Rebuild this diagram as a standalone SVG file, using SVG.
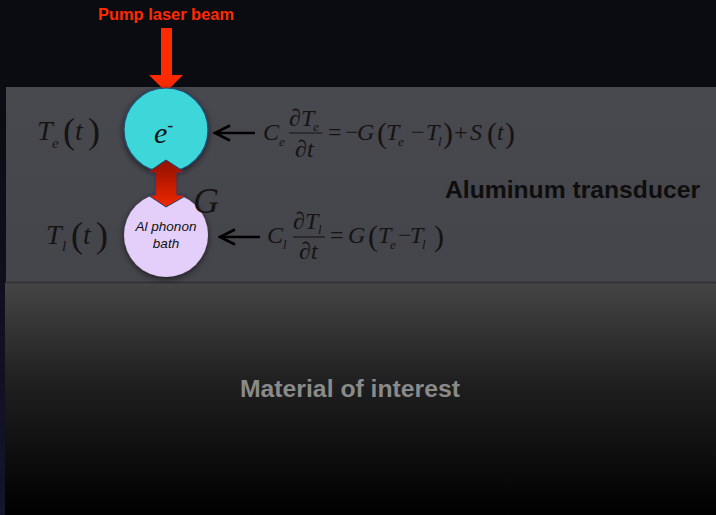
<svg xmlns="http://www.w3.org/2000/svg" width="716" height="515" viewBox="0 0 716 515">
<defs>
<linearGradient id="bgL" x1="0" y1="0" x2="0" y2="1"><stop offset="0" stop-color="#0b0b12"/><stop offset="1" stop-color="#14142a"/></linearGradient>
<linearGradient id="mat" x1="0" y1="0" x2="0" y2="1"><stop offset="0" stop-color="#454545"/><stop offset="0.45" stop-color="#1e1e1e"/><stop offset="1" stop-color="#000"/></linearGradient>
<linearGradient id="al" x1="0" y1="0" x2="0" y2="1"><stop offset="0" stop-color="#48484f"/><stop offset="1" stop-color="#44444b"/></linearGradient>
<linearGradient id="dbl" x1="0" y1="0" x2="0" y2="1"><stop offset="0" stop-color="#8e1200"/><stop offset="0.5" stop-color="#c01a00"/><stop offset="1" stop-color="#f02800"/></linearGradient>
<filter id="sh" x="-30%" y="-30%" width="160%" height="160%"><feGaussianBlur in="SourceAlpha" stdDeviation="3"/><feOffset dy="2"/><feComponentTransfer><feFuncA type="linear" slope="0.6"/></feComponentTransfer><feMerge><feMergeNode/><feMergeNode in="SourceGraphic"/></feMerge></filter>
<marker id="ah" viewBox="0 0 18 18" refX="16" refY="9" markerWidth="18" markerHeight="18" markerUnits="userSpaceOnUse" orient="auto"><path d="M1,1.5 L16,9 L1,16.5" fill="none" stroke="#000" stroke-width="2.6"/></marker>
</defs>
<style>
.m{font-family:"Liberation Serif","Times New Roman",serif;font-style:italic;fill:#141414}
.p{font-family:"Liberation Serif","Times New Roman",serif;fill:#141414}
.arr{stroke:#000;stroke-width:2.6;fill:none}
.sans{font-family:"Liberation Sans",Arial,sans-serif}
.eq{font-size:24px}
.sb{font-size:13px}
.br{font-size:30px}
</style>
<rect width="716" height="515" fill="#0b0b12"/>
<rect x="0" y="80" width="6" height="435" fill="url(#bgL)"/>
<g id="aluminum">
<rect x="6" y="87" width="710" height="195" fill="url(#al)"/>
<text x="445" y="198" class="sans" font-weight="bold" font-size="24" fill="#0e0e0e" textLength="255" lengthAdjust="spacingAndGlyphs">Aluminum transducer</text>
</g>
<g id="material">
<rect x="5" y="282" width="711" height="233" fill="url(#mat)"/>
<line x1="5" y1="282.5" x2="716" y2="282.5" stroke="#2e2e33" stroke-width="1.5"/>
<text x="240" y="397" class="sans" font-weight="bold" font-size="23.5" fill="#8a8a8a" textLength="220" lengthAdjust="spacingAndGlyphs">Material of interest</text>
</g>
<g id="pump">
<text x="98" y="20" class="sans" font-weight="bold" font-size="16.5" fill="#ff2a00" textLength="136" lengthAdjust="spacingAndGlyphs">Pump laser beam</text>
<path d="M161,28 H172 V75 H183 L166,92 L149,75 H161 Z" fill="#ff2a00"/>
</g>
<g id="electrons">
<circle cx="166" cy="130" r="42" fill="#3dd6d9" stroke="#1f4e79" stroke-width="1.2" filter="url(#sh)"/>
<text x="154" y="143" class="m" font-size="30" fill="#111">e<tspan font-style="normal" font-size="18" dy="-12">-</tspan></text>
</g>
<g id="phonon">
<circle cx="166" cy="235" r="42" fill="#e3cff9" filter="url(#sh)"/>
<text x="166" y="231" text-anchor="middle" class="sans" font-style="italic" font-size="13.5" fill="#111">Al phonon</text>
<text x="166" y="248" text-anchor="middle" class="sans" font-style="italic" font-size="13.5" fill="#111">bath</text>
</g>
<g id="connectors">
<path d="M166,160 L186,173 H177 V195 H187 L166,207 L148,195 H155 V173 H147 Z" fill="url(#dbl)" stroke="#1f3f6f" stroke-width="1"/>
<line class="arr" x1="255" y1="133" x2="215" y2="133" marker-end="url(#ah)"/>
<line class="arr" x1="260" y1="237" x2="220" y2="237" marker-end="url(#ah)"/>
</g>
<text x="193" y="213" class="m" font-size="36">G</text>
<g id="Te">
<text x="37" y="140" class="m" font-size="28">T</text>
<text x="52" y="148" class="m" font-size="15">e</text>
<text x="63" y="143" class="p" font-size="36">(</text>
<text x="75" y="140" class="m" font-size="28">t</text>
<text x="88" y="143" class="p" font-size="36">)</text>
</g>
<g id="Tl">
<text x="46" y="244" class="m" font-size="28">T</text>
<text x="62" y="251" class="m" font-size="15">l</text>
<text x="71" y="247" class="p" font-size="36">(</text>
<text x="83" y="244" class="m" font-size="28">t</text>
<text x="96" y="247" class="p" font-size="36">)</text>
</g>
<g id="eq1">
<text x="263" y="140" class="m eq">C</text>
<text x="279" y="146" class="m sb">e</text>
<text x="289" y="126" class="p eq">∂</text>
<text x="301" y="126" class="m eq">T</text>
<text x="313" y="131" class="m sb">e</text>
<line x1="289" y1="133" x2="322" y2="133" stroke="#141414" stroke-width="1.1"/>
<text x="295" y="157" class="p eq">∂</text>
<text x="307" y="157" class="m eq">t</text>
<text x="328" y="140" class="p eq">=</text>
<text x="345" y="140" class="p eq">−</text>
<text x="357" y="140" class="m eq">G</text>
<text x="377" y="143" class="p br">(</text>
<text x="386" y="140" class="m eq">T</text>
<text x="398" y="146" class="m sb">e</text>
<text x="411" y="140" class="p eq">−</text>
<text x="426" y="140" class="m eq">T</text>
<text x="438" y="146" class="m sb">l</text>
<text x="443" y="143" class="p br">)</text>
<text x="454" y="140" class="p eq">+</text>
<text x="470" y="140" class="m eq">S</text>
<text x="487" y="143" class="p br">(</text>
<text x="497" y="140" class="m eq">t</text>
<text x="505" y="143" class="p br">)</text>
</g>
<g id="eq2">
<text x="267" y="243" class="m eq">C</text>
<text x="283" y="249" class="m sb">l</text>
<text x="293" y="229" class="p eq">∂</text>
<text x="305" y="229" class="m eq">T</text>
<text x="318" y="234" class="m sb">l</text>
<line x1="293" y1="237" x2="325" y2="237" stroke="#141414" stroke-width="1.1"/>
<text x="299" y="259" class="p eq">∂</text>
<text x="311" y="259" class="m eq">t</text>
<text x="330" y="243" class="p eq">=</text>
<text x="348" y="243" class="m eq">G</text>
<text x="368" y="246" class="p br">(</text>
<text x="378" y="243" class="m eq">T</text>
<text x="390" y="249" class="m sb">e</text>
<text x="398" y="243" class="p eq">−</text>
<text x="410" y="243" class="m eq">T</text>
<text x="422" y="249" class="m sb">l</text>
<text x="434" y="246" class="p br">)</text>
</g>
</svg>
